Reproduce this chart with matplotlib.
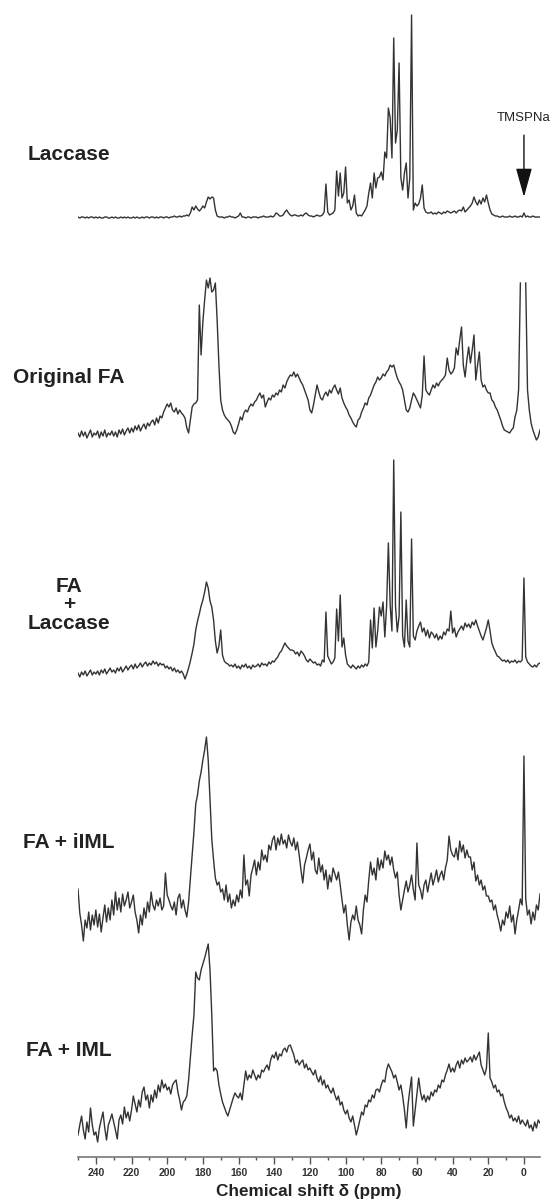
import numpy as np
import matplotlib
matplotlib.use("Agg")
import matplotlib.pyplot as plt
from matplotlib.ticker import MultipleLocator

plt.rcParams["font.family"] = ["Liberation Sans", "DejaVu Sans"]

# chemical shift grid, 1 ppm steps from 250 down to -9
ppm = np.arange(250, -10, -1)

# intensities (arbitrary units, ~pixels above each trace's base)
laccase = [
    1, 0, 1, 1, 0, 1, 0, 1, 1, 0,
    1, 0, 1, 0, 0, 1, 1, 0, 0, 1,
    0, 1, 0, 0, 1, 0, 1, 0, 1, 0,
    0, 1, 0, 1, 0, 0, 1, 0, 1, 1,
    0, 1, 1, 0, 1, 0, 1, 1, 0, 1,
    1, 0, 1, 1, 2, 1, 1, 2, 1, 2,
    2, 3, 2, 5, 11, 8, 12, 9, 7, 9,
    12, 10, 16, 21, 19, 21, 20, 8, 2, 1,
    1, 1, 0, 1, 1, 2, 1, 1, 0, 1,
    2, 5, 1, 1, 0, 1, 1, 0, 1, 1,
    1, 0, 1, 1, 2, 1, 1, 1, 2, 1,
    2, 5, 4, 2, 2, 3, 6, 8, 5, 3,
    2, 3, 3, 2, 2, 3, 2, 4, 5, 3,
    2, 2, 1, 2, 3, 2, 2, 3, 6, 34,
    6, 3, 4, 5, 8, 47, 22, 45, 20, 25,
    51, 15, 18, 8, 12, 23, 5, 2, 3, 2,
    5, 8, 12, 25, 35, 20, 45, 30, 40, 41,
    46, 38, 66, 60, 110, 100, 60, 180, 75, 88,
    155, 40, 28, 45, 55, 20, 40, 203, 8, 15,
    12, 14, 20, 33, 10, 6, 5, 5, 6, 4,
    5, 4, 6, 5, 4, 6, 5, 7, 6, 5,
    6, 7, 5, 7, 8, 7, 11, 6, 8, 10,
    12, 15, 21, 16, 13, 18, 14, 20, 16, 23,
    15, 8, 4, 3, 2, 2, 1, 1, 2, 1,
    1, 1, 2, 1, 1, 2, 1, 1, 2, 1,
    5, 1, 2, 1, 1, 2, 1, 1, 1, 1,
]

original_fa = [
    7, 3, 9, 4, 8, 2, 6, 10, 3, 7,
    5, 9, 2, 8, 4, 10, 3, 7, 5, 9,
    4, 8, 3, 10, 6, 11, 5, 9, 12, 7,
    12, 8, 14, 10, 15, 9, 13, 16, 11, 17,
    14, 18, 20, 15, 22, 17, 24, 22, 28, 32,
    36, 33, 37, 30, 28, 32, 26, 30, 27, 25,
    22, 12, 7, 20, 33, 36, 37, 40, 135, 85,
    118, 140, 160, 152, 162, 148, 150, 157, 120, 75,
    40, 30, 25, 22, 20, 18, 14, 8, 6, 10,
    16, 23, 20, 27, 30, 28, 33, 36, 34, 38,
    40, 44, 47, 42, 45, 33, 38, 42, 40, 45,
    43, 47, 45, 50, 48, 55, 52, 58, 62, 65,
    64, 68, 63, 66, 62, 58, 55, 50, 45, 40,
    30, 27, 35, 45, 55, 48, 42, 40, 45, 48,
    44, 50, 47, 52, 55, 50, 46, 52, 42, 37,
    33, 30, 25, 22, 18, 15, 13, 20, 22, 28,
    32, 37, 35, 42, 45, 50, 55, 58, 63, 60,
    62, 66, 64, 68, 70, 75, 73, 75, 68, 62,
    58, 55, 50, 40, 30, 28, 32, 40, 47, 44,
    40, 36, 32, 45, 84, 50, 47, 45, 50, 55,
    52, 57, 54, 58, 60, 62, 65, 82, 70, 66,
    68, 72, 92, 85, 100, 113, 75, 63, 80, 93,
    77, 90, 105, 60, 75, 88, 60, 53, 55, 50,
    47, 47, 40, 38, 33, 30, 25, 20, 14, 10,
    9, 8, 7, 10, 12, 23, 30, 50, 157, np.nan,
    np.nan, 157, 50, 30, 17, 10, 5, 0, 3, 10,
]

fa_laccase = [
    3, -1, 4, 1, 5, 0, 3, 6, 1, 4,
    2, 5, 1, 6, 3, 7, 2, 5, 8, 4,
    6, 3, 8, 5, 9, 4, 7, 10, 6, 9,
    11, 7, 12, 8, 10, 13, 9, 12, 14, 10,
    13, 11, 15, 12, 14, 10, 13, 11, 12, 8,
    10, 7, 9, 5, 8, 4, 6, 3, 5, 2,
    -3, 2, 8, 15, 23, 32, 46, 55, 62, 70,
    76, 84, 94, 88, 75, 69, 56, 35, 23, 30,
    46, 21, 15, 13, 12, 10, 11, 9, 12, 8,
    10, 7, 11, 9, 12, 8, 10, 7, 11, 9,
    10, 12, 9, 13, 11, 12, 10, 14, 12, 15,
    14, 17, 19, 23, 25, 29, 33, 30, 28, 26,
    26, 25, 22, 24, 20, 25, 23, 20, 16, 14,
    17, 15, 13, 14, 11, 12, 10, 16, 14, 64,
    20, 16, 12, 14, 18, 67, 35, 81, 29, 38,
    21, 12, 10, 8, 11, 9, 7, 10, 8, 11,
    9, 12, 10, 14, 56, 28, 68, 29, 45, 69,
    60, 74, 39, 70, 133, 71, 45, 216, 70, 44,
    60, 164, 40, 29, 76, 35, 29, 137, 40, 36,
    45, 50, 54, 44, 48, 40, 46, 38, 44, 42,
    38, 42, 36, 40, 37, 44, 41, 47, 45, 65,
    43, 48, 39, 44, 47, 50, 46, 53, 49, 52,
    48, 54, 51, 56, 50, 45, 40, 36, 42, 48,
    56, 45, 33, 28, 24, 20, 19, 17, 15, 16,
    14, 16, 13, 15, 14, 16, 13, 15, 14, 16,
    98, 19, 14, 12, 10, 9, 11, 9, 12, 13,
]

fa_iiml = [
    41, 17, 5, -11, 10, 2, 18, 0, 15, 5,
    20, 3, 16, -2, 12, 25, 8, 22, 10, 30,
    15, 38, 20, 32, 18, 36, 24, 30, 38, 22,
    28, 35, 18, 10, -3, 15, 5, 22, 12, 28,
    18, 38, 25, 20, 30, 24, 32, 20, 24, 57,
    35, 30, 24, 20, 28, 15, 32, 36, 22, 30,
    20, 13, 28, 52, 75, 98, 126, 135, 149, 158,
    170, 180, 193, 170, 130, 91, 70, 52, 45, 48,
    38, 41, 30, 45, 28, 36, 22, 30, 24, 35,
    28, 40, 32, 75, 45, 50, 34, 55, 62, 70,
    55, 68, 60, 80, 70, 75, 68, 85, 80, 90,
    94, 80, 92, 85, 96, 86, 90, 82, 95, 88,
    84, 92, 80, 88, 75, 60, 47, 65, 72, 80,
    86, 70, 78, 60, 56, 72, 58, 65, 50, 60,
    41, 55, 48, 62, 56, 50, 58, 45, 30, 17,
    25, 5, -10, 8, 15, 10, 24, 10, 5, -4,
    20, 35, 28, 50, 68, 55, 62, 50, 72, 60,
    70, 62, 79, 70, 75, 65, 73, 60, 52, 58,
    35, 20, 30, 40, 49, 38, 45, 55, 40, 30,
    87, 45, 40, 31, 45, 50, 38, 48, 57, 45,
    52, 60, 48, 55, 59, 50, 62, 70, 94, 80,
    75, 73, 82, 70, 89, 78, 85, 72, 80, 73,
    73, 60, 68, 49, 55, 45, 50, 40, 44, 34,
    34, 28, 30, 20, 25, 15, 8, -1, 10, 5,
    18, 12, 24, 8, 15, -4, 10, 20, 31, 25,
    174, 31, 15, 20, 6, 18, 10, 25, 20, 36,
]

fa_iml = [
    5, 15, 24, 10, 1, 18, 8, 32, 15, 5,
    8, -2, 12, 20, 28, 12, 0, 15, 20, 26,
    18, 10, 1, 20, 25, 16, 33, 22, 28, 19,
    30, 44, 36, 28, 40, 33, 48, 53, 40, 45,
    32, 45, 38, 50, 42, 55, 48, 60, 52, 56,
    50, 53, 46, 55, 58, 60, 48, 40, 30, 38,
    40, 44, 60, 83, 105, 125, 168, 162, 160, 170,
    176, 182, 189, 196, 170, 125, 69, 72, 69, 55,
    46, 38, 33, 28, 24, 30, 36, 42, 47, 44,
    42, 47, 40, 55, 69, 60, 65, 62, 70, 65,
    60, 65, 62, 70, 68, 72, 75, 70, 80, 85,
    82, 88, 80, 86, 84, 90, 92, 88, 94, 95,
    90, 85, 77, 80, 75, 78, 80, 72, 76, 70,
    72, 68, 65, 70, 62, 58, 64, 55, 60, 52,
    55, 50, 47, 52, 45, 40, 44, 35, 38, 30,
    26, 30, 22, 18, 24, 15, 5, 12, 20, 28,
    25, 35, 33, 40, 38, 45, 42, 50, 51, 48,
    55, 60, 58, 70, 76, 72, 68, 62, 65, 58,
    50, 55, 44, 30, 12, 35, 50, 63, 14, 30,
    45, 62, 48, 40, 45, 38, 44, 40, 48, 44,
    50, 48, 55, 52, 60, 58, 65, 70, 76, 68,
    72, 68, 75, 79, 72, 80, 76, 82, 78, 80,
    83, 78, 85, 80, 84, 88, 75, 70, 65, 72,
    107, 62, 58, 52, 55, 48, 50, 44, 46, 38,
    32, 28, 22, 25, 19, 22, 18, 24, 16, 20,
    17, 14, 20, 12, 15, 9, 18, 12, 20, 17,
]

spectra = [laccase, original_fa, fa_laccase, fa_iiml, fa_iml]
names = ["Laccase", "Original FA", "FA\n+\nLaccase", "FA + iIML", "FA + IML"]
# vertical offsets of each trace (same units as the intensities)
offsets = [939, 717, 481, 227, 17]
# where the sample names sit (pixel rows of the picture)
name_rows = [155, 377, 605, 842, 1050]

W, H = 555, 1204
fig = plt.figure(figsize=(W / 100, H / 100), dpi=100)
ax = fig.add_axes([78 / W, 1 - 1157 / H, 462 / W, 1157 / H])

for spec, off in zip(spectra, offsets):
    y = np.array(spec, dtype=float) + off
    ax.plot(ppm, y, color="#333333", lw=1.0)

for name, row in zip(names, name_rows):
    fig.text(69 / W, 1 - row / H, name, ha="center", va="center",
             fontsize=15, fontweight="bold", color="#222222", linespacing=0.95)

# reference marker
ax.annotate("TMSPNa", xy=(0, 1157 - 197), xytext=(0, 1157 - 118),
            ha="center", va="center", fontsize=9.5, color="#222222",
            arrowprops=dict(arrowstyle="-|>,head_length=1.8,head_width=0.5",
                            color="#111111", lw=1.0, shrinkA=6, shrinkB=0,
                            mutation_scale=10))

ax.set_xlim(250, -9)
ax.set_ylim(0, 1157)
for s in ["left", "right", "top"]:
    ax.spines[s].set_visible(False)
ax.spines["bottom"].set_color("#777777")
ax.spines["bottom"].set_linewidth(1.2)
ax.set_yticks([])
ax.xaxis.set_major_locator(MultipleLocator(20))
ax.xaxis.set_minor_locator(MultipleLocator(10))
ax.set_xticks(np.arange(240, -1, -20))
ax.tick_params(axis="x", which="major", length=5, width=1, color="#555555",
               labelsize=7.5, labelcolor="#333333", pad=3)
ax.tick_params(axis="x", which="minor", length=2.5, width=1, color="#555555")
for lab in ax.get_xticklabels():
    lab.set_fontweight("bold")
ax.set_xlabel("Chemical shift \u03b4 (ppm)", fontsize=12.3, fontweight="bold",
              color="#222222", labelpad=4)

fig.savefig("out.png", dpi=100)
